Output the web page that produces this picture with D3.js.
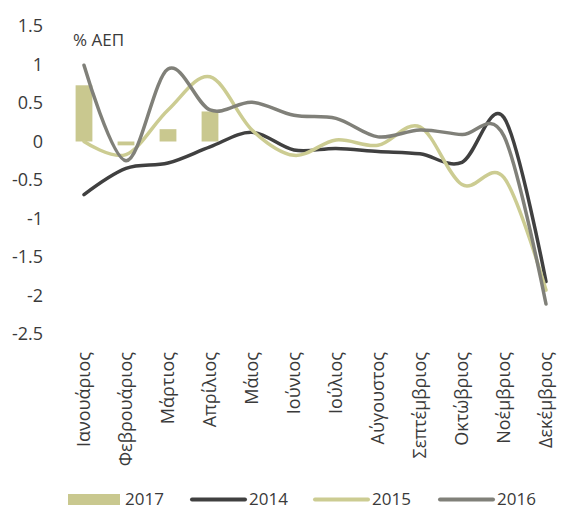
<!DOCTYPE html>
<html>
<head>
<meta charset="utf-8">
<script src="https://cdn.jsdelivr.net/npm/d3@7"></script>
<style>
  body { margin: 0; background: #fff; }
  text { font-family: "Open Sans", sans-serif; fill: #3a3a3a; }
</style>
</head>
<body>
<div id="chart"></div>
<script>
var months = ["Ιανουάριος", "Φεβρουάριος", "Μάρτιος", "Απρίλιος", "Μάιος", "Ιούνιος",
              "Ιούλιος", "Αύγουστος", "Σεπτέμβριος", "Οκτώβριος", "Νοέμβριος", "Δεκέμβριος"];
var yTicks = [1.5, 1, 0.5, 0, -0.5, -1, -1.5, -2, -2.5];

var bars2017 = [0.73, -0.05, 0.16, 0.39];
var line2014 = [-0.69, -0.35, -0.28, -0.07, 0.12, -0.11, -0.09, -0.13, -0.16, -0.27, 0.31, -1.82];
var line2015 = [0.0, -0.17, 0.41, 0.84, 0.15, -0.18, 0.02, -0.05, 0.19, -0.56, -0.47, -1.93];
var line2016 = [0.99, -0.25, 0.94, 0.41, 0.51, 0.34, 0.30, 0.06, 0.15, 0.09, 0.07, -2.11];

var width = 564, height = 511;

var x = d3.scalePoint()
    .domain(months)
    .range([84, 546]);

var y = d3.scaleLinear()
    .domain([-2.5, 1.5])
    .range([334, 26]);

var svg = d3.select("#chart").append("svg")
    .attr("width", width)
    .attr("height", height);

// y axis labels, no axis line
svg.selectAll(".ytick")
    .data(yTicks)
  .enter().append("text")
    .attr("class", "ytick")
    .attr("x", 43)
    .attr("y", function(d) { return y(d); })
    .attr("dy", "0.35em")
    .attr("text-anchor", "end")
    .style("font-size", "18px")
    .text(function(d) { return d; });

svg.append("text")
    .attr("x", 73)
    .attr("y", 46)
    .style("font-size", "17px")
    .text("% ΑΕΠ");

// month labels
svg.selectAll(".month")
    .data(months)
  .enter().append("text")
    .attr("class", "month")
    .attr("transform", function(d) { return "translate(" + x(d) + ",352) rotate(-90)"; })
    .attr("dy", "0.35em")
    .attr("text-anchor", "end")
    .style("font-size", "18px")
    .text(function(d) { return d; });

var barW = x.step() * 0.4;

svg.selectAll(".bar")
    .data(bars2017)
  .enter().append("rect")
    .attr("class", "bar")
    .attr("x", function(d, i) { return x(months[i]) - barW / 2; })
    .attr("y", function(d) { return y(Math.max(0, d)); })
    .attr("width", barW)
    .attr("height", function(d) { return Math.abs(y(d) - y(0)); })
    .attr("fill", "#c9c88f");

var line = d3.line()
    .x(function(d, i) { return x(months[i]); })
    .y(function(d) { return y(d); })
    .curve(d3.curveCardinal.tension(0));

var series = [
  {name: "2014", values: line2014, color: "#404040"},
  {name: "2015", values: line2015, color: "#cccc92"},
  {name: "2016", values: line2016, color: "#808079"}
];

svg.selectAll(".series")
    .data(series)
  .enter().append("path")
    .attr("class", "series")
    .attr("d", function(d) { return line(d.values); })
    .attr("fill", "none")
    .attr("stroke", function(d) { return d.color; })
    .attr("stroke-width", 3.5)
    .attr("stroke-linecap", "round");

// legend
var legend = svg.append("g");

legend.append("rect")
    .attr("x", 68)
    .attr("y", 494)
    .attr("width", 52)
    .attr("height", 11)
    .attr("fill", "#c9c88f");

legend.append("text")
    .attr("x", 125)
    .attr("y", 505)
    .style("font-size", "17px")
    .text("2017");

var legX = [192, 315, 440];

series.forEach(function(s, i) {
  legend.append("line")
      .attr("x1", legX[i])
      .attr("x2", legX[i] + 53)
      .attr("y1", 499.5)
      .attr("y2", 499.5)
      .attr("stroke", s.color)
      .attr("stroke-width", 4)
      .attr("stroke-linecap", "round");
  legend.append("text")
      .attr("x", legX[i] + 57)
      .attr("y", 505)
      .style("font-size", "17px")
      .text(s.name);
});
</script>
</body>
</html>
